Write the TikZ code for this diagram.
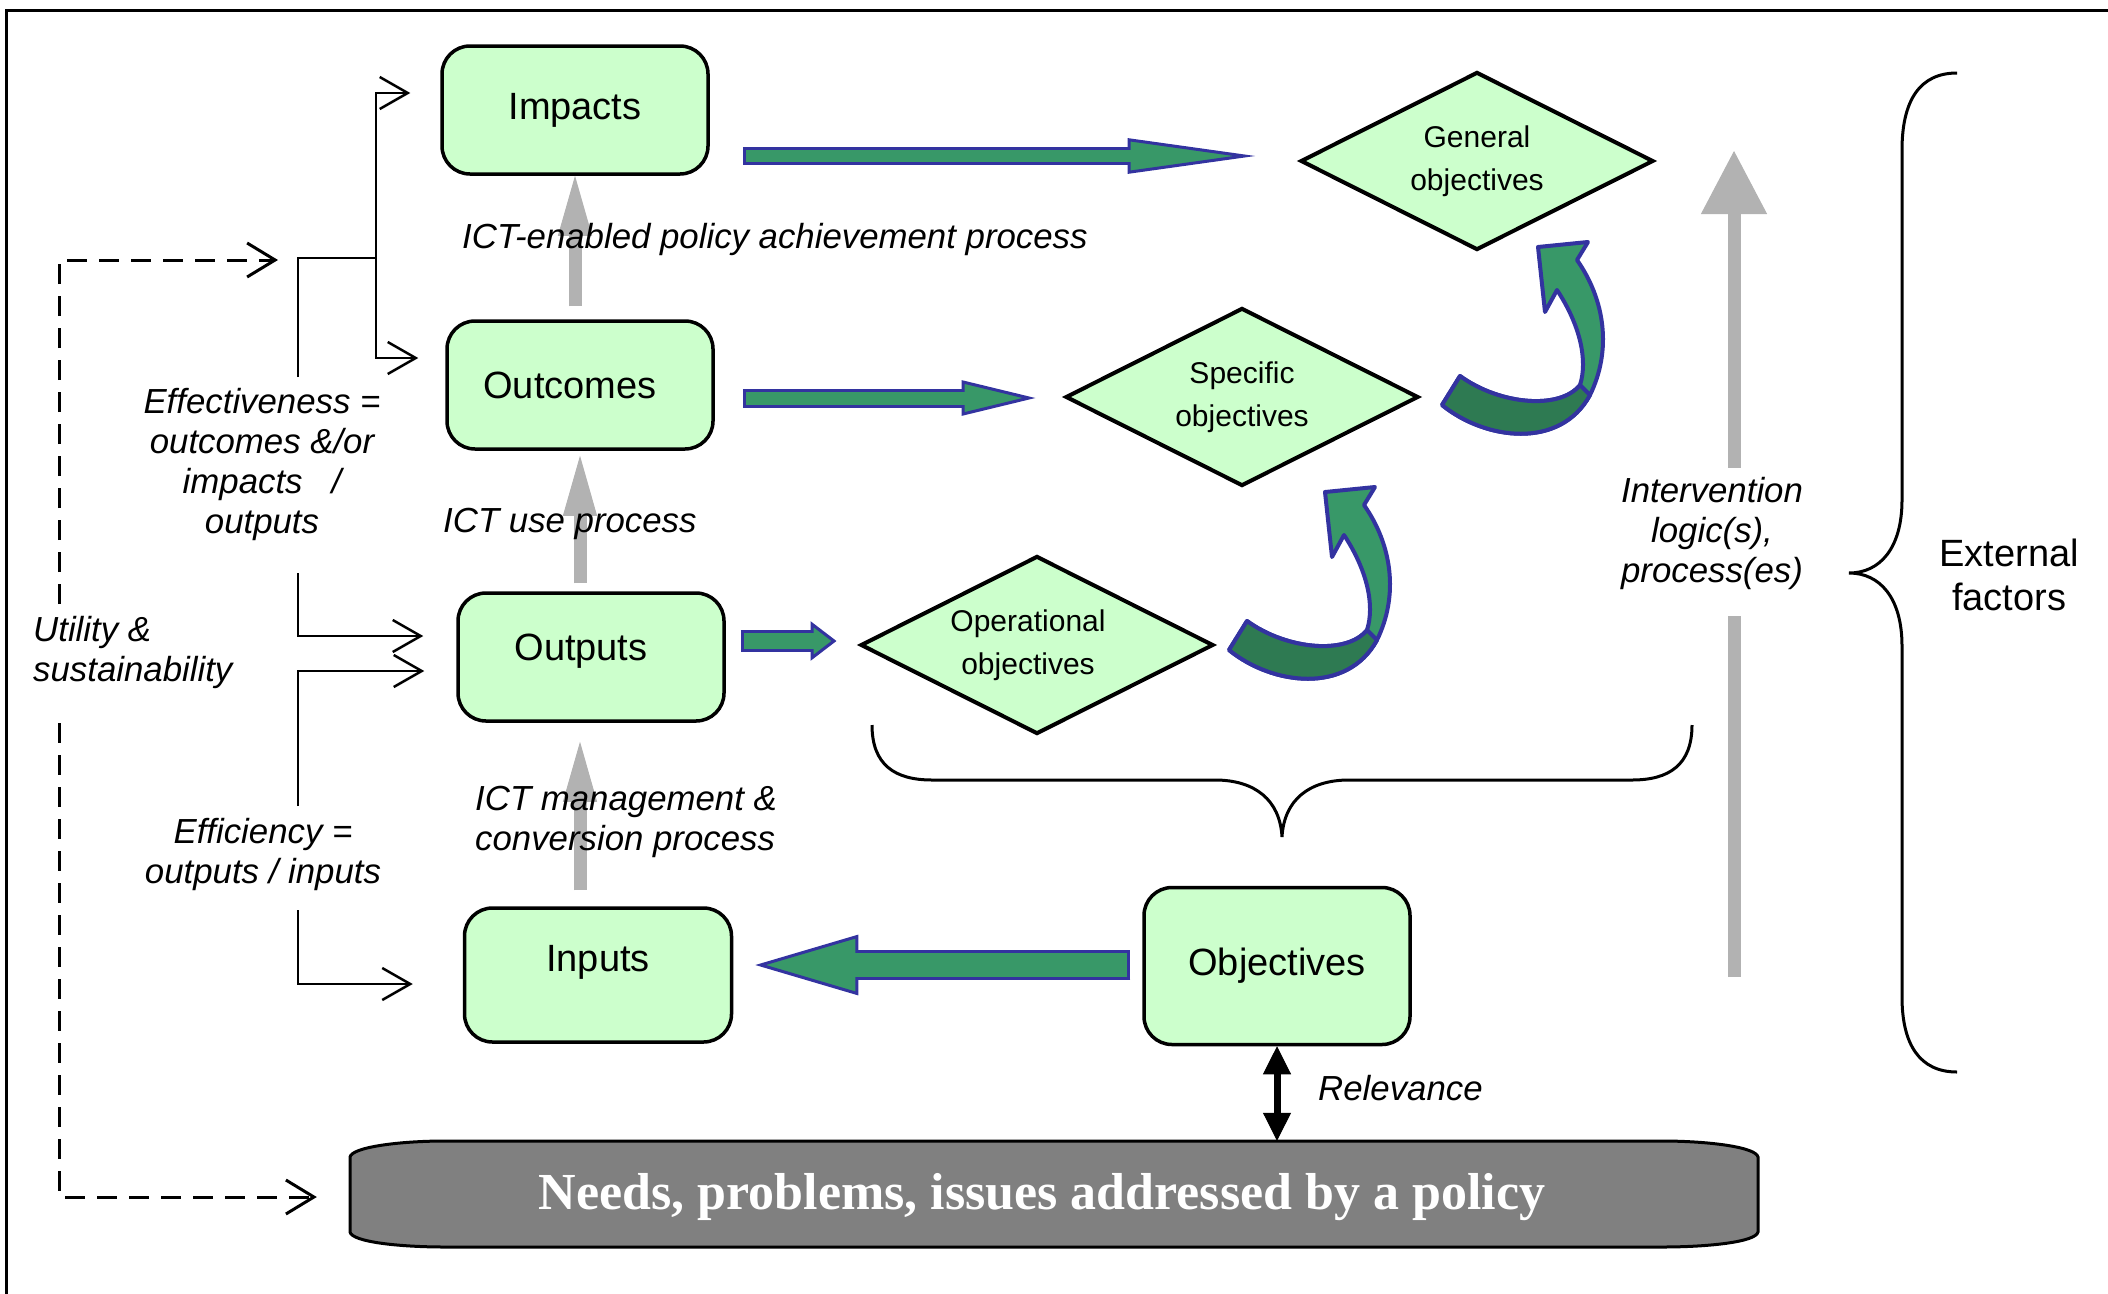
\documentclass[tikz,border=0pt]{standalone}
\usepackage{fontspec}
\setmainfont{Liberation Sans}
\newfontfamily\needsfont{Liberation Serif}
\usetikzlibrary{arrows.meta,shapes.geometric,calc}
\definecolor{boxgreen}{RGB}{204,255,204}
\definecolor{arrowgreen}{RGB}{56,152,104}
\definecolor{darkgreen}{RGB}{46,122,82}
\definecolor{arrowblue}{RGB}{51,51,160}
\definecolor{procgray}{RGB}{178,178,178}
\definecolor{needsgray}{RGB}{128,128,128}
\tikzset{fat/.style n args={5}{draw=arrowblue,line width=#1,-{Triangle[length=#3,width=#4,fill=arrowgreen,line width=3pt]},postaction={draw=arrowgreen,-,line width=#2,shorten <=3pt,shorten >=#5}}}

\begin{document}
\begin{tikzpicture}[x=1pt,y=-1pt]
\tikzstyle{box}=[rectangle,rounded corners=28pt,draw=black,line width=3.5pt,fill=boxgreen,minimum width=266pt,minimum height=128pt,font=\fontsize{38}{44}\selectfont]
\tikzstyle{objective}=[diamond,aspect=2,draw=black,line width=4pt,fill=boxgreen,minimum width=353pt,minimum height=178pt,inner sep=0pt,align=center,font=\fontsize{30}{43}\selectfont]
\tikzstyle{lbl}=[inner sep=0pt,font=\itshape\fontsize{34.8}{40}\selectfont]
\tikzstyle{procarrow}=[draw=procgray,line width=13pt,-{Triangle[length=60pt,width=34pt,line width=1pt]}]
\tikzstyle{tree}=[line width=2.5pt]
\tikzstyle{treearrow}=[line width=2.5pt,-{Straight Barb[length=28pt,width=32pt]}]
\tikzstyle{dasharrow}=[line width=3pt,dash pattern=on 20pt off 12pt,-{Straight Barb[length=28pt,width=34pt]}]
\tikzstyle{relarrow}=[line width=7pt,{Triangle[length=28pt,width=28pt,line width=1pt]}-{Triangle[length=28pt,width=28pt,line width=1pt]},shorten >=3pt]
\tikzstyle{brace}=[line width=3pt]
\tikzstyle{curved}=[draw=arrowblue,line width=4pt,line join=round]
\useasboundingbox (0,0) rectangle (2108,1293);
\draw[line width=3pt] (6,1300) -- (6,10) -- (2115,10);

% boxes
\node[box] (impacts) at (575,110) {Impacts};
\node[box] (outcomes) at (580,385) {Outcomes\hspace*{20pt}};
\node[box,text height=28pt,text depth=21pt] (outputs) at (591,657) {Outputs\hspace*{20pt}};
\node[box,minimum width=267pt,minimum height=134pt,text height=28pt,text depth=36pt] (inputs) at (598,975) {Inputs};
\node[box,minimum height=157pt] (objectives) at (1277,966) {Objectives};

% objectives diamonds
\node[objective] (general) at (1477,161) {General\\objectives};
\node[objective] (specific) at (1242,397) {Specific\\objectives};
\node[objective] (operational) at (1037,645) {Operational\hspace*{18pt}\\objectives\hspace*{18pt}};

% needs bar
\draw[draw=black,line width=3pt,fill=needsgray] (350,1157) .. controls (352,1147) and (400,1141) .. (445,1141) -- (1662,1141) .. controls (1708,1141) and (1756,1147) .. (1758,1157) -- (1758,1232) .. controls (1756,1242) and (1708,1247) .. (1662,1247) -- (445,1247) .. controls (400,1247) and (352,1242) .. (350,1232) -- cycle;
\node[minimum width=1384pt,minimum height=106pt,text=white,font=\needsfont\bfseries\fontsize{52}{60}\selectfont] (needs) at (1042,1197) {Needs, problems, issues addressed by a policy};

% process arrows
\draw[procarrow,shorten <=13pt] (impacts.south |- outcomes.north) -- (impacts.south);
\draw[procarrow,shorten <=8pt,shorten >=5pt] (outcomes.south |- outputs.north) -- (outcomes.south);
\draw[procarrow,shorten <=16pt,shorten >=19pt] (outcomes.south |- inputs.north) -- (outcomes.south |- outputs.south);

% green block arrows
\draw[fat={18pt}{12pt}{128pt}{35pt}{125pt}] ($(impacts.east)+(33,46)$) -- ($(general.west)+(-43,-5)$);
\draw[fat={19pt}{13pt}{74pt}{35pt}{71pt}] ($(outcomes.east)+(28,13)$) -- ($(specific.west)+(-28,1)$);
\draw[fat={22pt}{16pt}{26pt}{39pt}{23pt}] ($(outputs.east)+(15,-16)$) -- ($(operational.west)+(-22,-4)$);
\draw[fat={30pt}{24pt}{103pt}{60pt}{100pt}] ($(objectives.west)+(-12,-1)$) -- ($(inputs.east)+(22,-10)$);

% curved arrows between the objectives
\foreach \dx/\dy in {0/0,-213/245}{
\begin{scope}[shift={(\dx,\dy)}]
\draw[curved,fill=arrowgreen] (1442,405) .. controls (1485,440) and (1560,450) .. (1590,395) .. controls (1612,350) and (1605,300) .. (1577,260) -- (1588,242) -- (1538,247) -- (1545,312) -- (1557,290) .. controls (1580,325) and (1588,360) .. (1580,385) .. controls (1560,410) and (1500,405) .. (1460,376) -- cycle;
\draw[curved,fill=darkgreen] (1442,405) .. controls (1485,440) and (1560,450) .. (1590,395) -- (1580,385) .. controls (1560,410) and (1500,405) .. (1460,376) -- cycle;
\end{scope}}

% process labels
\node[lbl,anchor=west] (achieve) at (462,239) {ICT-enabled policy achievement process};
\node[lbl,anchor=west] (use) at (443,524) {ICT use process};
\node[lbl,anchor=west,align=left] (manage) at (475,822) {ICT management \&\\conversion process};

% braces
\draw[brace] (872,725) .. controls (872,765) and (895,780) .. (932,780) -- (1215,780) .. controls (1255,780) and (1280,800) .. (1282,837) .. controls (1284,800) and (1309,780) .. (1349,780) -- (1632,780) .. controls (1669,780) and (1692,765) .. (1692,725);
\draw[brace] (1957,73) .. controls (1920,73) and (1902,100) .. (1902,150) -- (1902,500) .. controls (1902,548) and (1880,573) .. (1849,573) .. controls (1880,573) and (1902,598) .. (1902,646) -- (1902,997) .. controls (1902,1045) and (1920,1072) .. (1957,1072);
\node[inner sep=0pt,align=center,font=\fontsize{38}{44}\selectfont] (external) at (2009,575) {External\\factors};

% intervention logic
\coordinate (ilbot) at (1734,977);
\coordinate (iltop) at (1734,151);
\node[lbl,align=center] (intervention) at (1712,533) {Intervention\\logic(s),\\process(es)};
\draw[procarrow,-] (ilbot) -- ($(intervention.south -| ilbot)+(0,27)$);
\draw[procarrow,-{Triangle[length=63pt,width=66pt,line width=1pt]}] ($(intervention.north -| ilbot)+(0,-9)$) -- (iltop);

% relevance
\draw[relarrow] (objectives.south) -- (objectives.south |- needs.north);
\node[lbl,anchor=west] (relevance) at (1318,1088) {Relevance};

% left criteria
\node[lbl,align=center] (eff) at (262,464) {Effectiveness =\\outcomes \&/or\\impacts \ \ /\\outputs};
\node[lbl,align=center] (efc) at (263,854) {Efficiency =\\outputs / inputs};
\node[lbl,align=left,anchor=west] (util) at (33,652) {Utility \&\\sustainability};
\coordinate (effup) at (298,377);
\coordinate (efftop) at (298,258);
\coordinate (efffork) at (376,258);
\coordinate (effdown) at (298,573);
\coordinate (efctop) at (298,671);
\coordinate (efcup) at (298,806);
\coordinate (efcdown) at (298,910);
\coordinate (utop) at (59,604);
\coordinate (ubot) at (59,723);
\draw[tree] (effup) -- (efftop) -- (efffork);
\draw[treearrow] (efffork) |- ($(impacts.west)+(-30,-17)$);
\draw[treearrow] (efffork) |- ($(outcomes.west)+(-27,-27)$);
\draw[treearrow] (effdown) |- ($(outputs.west)+(-33,-21)$);
\draw[treearrow] (efcup) -- (efctop) -- ($(outputs.west)+(-32,14)$);
\draw[treearrow] (efcdown) |- ($(inputs.west)+(-50,9)$);
\draw[dasharrow] (utop) |- ($(efftop)+(-20,2)$);
\draw[dasharrow] (ubot) |- ($(needs.west)+(-33,0)$);
\end{tikzpicture}
\end{document}
